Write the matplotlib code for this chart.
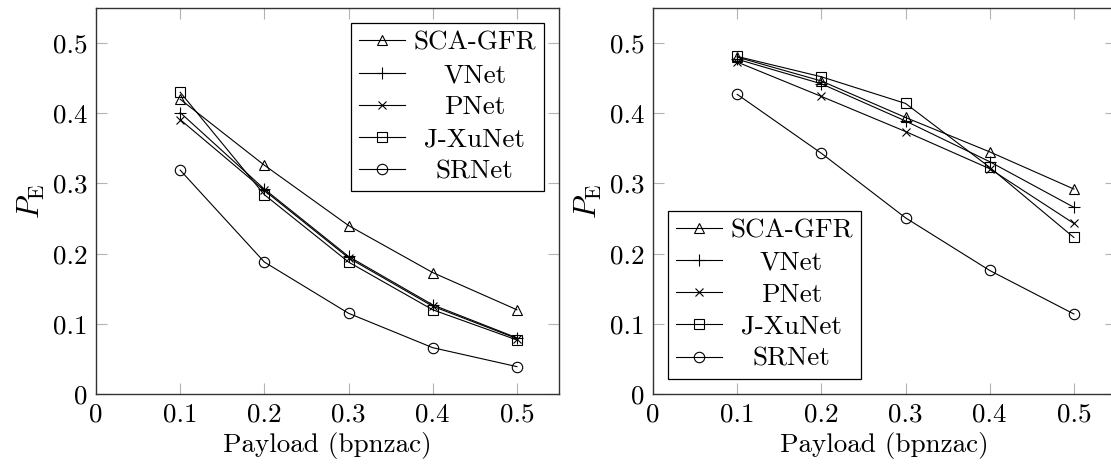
import matplotlib
matplotlib.use("Agg")
import matplotlib.pyplot as plt

plt.rcParams['font.family'] = 'cmr10'
plt.rcParams['mathtext.fontset'] = 'cm'
plt.rcParams['axes.formatter.use_mathtext'] = True
plt.rcParams['font.size'] = 19.5

payload = [0.1, 0.2, 0.3, 0.4, 0.5]
names = ['SCA-GFR', 'VNet', 'PNet', 'J-XuNet', 'SRNet']
markers = ['^', '+', 'x', 's', 'o']
msizes = [7, 9, 6, 7, 7.5]

# left panel
left_sca = [0.420, 0.326, 0.240, 0.173, 0.120]
left_vnet = [0.401, 0.292, 0.196, 0.127, 0.080]
left_pnet = [0.391, 0.290, 0.194, 0.125, 0.079]
left_jxu = [0.430, 0.284, 0.188, 0.120, 0.077]
left_srnet = [0.319, 0.188, 0.115, 0.066, 0.039]

# right panel
right_sca = [0.480, 0.446, 0.394, 0.345, 0.292]
right_vnet = [0.477, 0.442, 0.389, 0.331, 0.266]
right_pnet = [0.473, 0.424, 0.374, 0.321, 0.243]
right_jxu = [0.481, 0.452, 0.414, 0.323, 0.223]
right_srnet = [0.427, 0.343, 0.251, 0.176, 0.114]

ticks = [0, 0.1, 0.2, 0.3, 0.4, 0.5]
tick_labels = ['0', '0.1', '0.2', '0.3', '0.4', '0.5']

fig = plt.figure(figsize=(11.11, 4.69), dpi=100)
ax1 = fig.add_axes([96 / 1111, 75 / 469, 463 / 1111, 386 / 469])
ax2 = fig.add_axes([653 / 1111, 75 / 469, 463 / 1111, 386 / 469])


def draw_panel(ax, series, loc):
    for vals, name, m, ms in zip(series, names, markers, msizes):
        ax.plot(payload, vals, color='black', lw=0.8, marker=m, ms=ms,
                mfc='none', mec='black', mew=0.8, label=name)
    ax.set_xlim(0, 0.55)
    ax.set_ylim(0, 0.55)
    ax.set_xticks(ticks)
    ax.set_xticklabels(tick_labels)
    ax.set_yticks(ticks)
    ax.set_yticklabels(tick_labels)
    ax.tick_params(direction='in', top=True, right=True, length=8,
                   width=0.8, color='0.7', pad=6)
    for s in ax.spines.values():
        s.set_linewidth(1.0)
        s.set_color('0.2')
    ax.set_xlabel('Payload (bpnzac)', labelpad=4)
    ax.set_ylabel(r'$P_{\mathrm{E}}$', labelpad=4, fontsize=22)
    leg = ax.legend(loc=loc, fancybox=False, edgecolor='black', framealpha=1,
                    numpoints=1, handlelength=1.7, handletextpad=0.3,
                    labelspacing=0.3, borderpad=0.3, borderaxespad=0.55)
    leg.get_frame().set_linewidth(0.9)
    return leg


leg1 = draw_panel(ax1, [left_sca, left_vnet, left_pnet, left_jxu, left_srnet], 'upper right')
leg2 = draw_panel(ax2, [right_sca, right_vnet, right_pnet, right_jxu, right_srnet], 'lower left')

# centre legend texts like pgfplots does
fig.canvas.draw()
r = fig.canvas.get_renderer()
for leg in [leg1, leg2]:
    texts = leg.get_texts()
    ws = [t.get_window_extent(r).width for t in texts]
    for t, w in zip(texts, ws):
        t.set_x((max(ws) - w) / 2)

fig.savefig('out.png', dpi=100)
